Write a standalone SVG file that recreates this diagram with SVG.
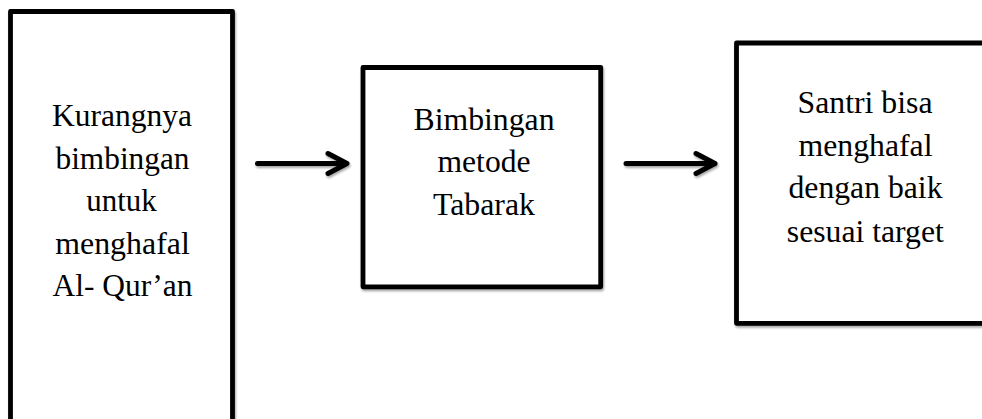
<svg xmlns="http://www.w3.org/2000/svg" width="982" height="419" viewBox="0 0 982 419">
<defs>
<filter id="sh" filterUnits="userSpaceOnUse" x="0" y="0" width="982" height="419">
<feDropShadow dx="1" dy="2" stdDeviation="1.2" flood-color="#000" flood-opacity="0.35"/>
</filter>
<style>
.box{fill:#fff;stroke:#000;stroke-width:4.8;stroke-linejoin:round;filter:url(#sh)}
.arr{fill:none;stroke:#000;stroke-width:5;stroke-linecap:round;stroke-linejoin:round;filter:url(#sh)}
</style>
</defs>
<rect width="982" height="419" fill="#fff"/>
<g id="node1">
<rect class="box" x="10.5" y="11.5" width="222" height="430"/>
<text font-family="Liberation Serif" font-size="31" text-anchor="middle" x="122" y="126" textLength="140" lengthAdjust="spacingAndGlyphs">Kurangnya</text>
<text font-family="Liberation Serif" font-size="31" text-anchor="middle" x="122.5" y="168.5" textLength="134" lengthAdjust="spacingAndGlyphs">bimbingan</text>
<text font-family="Liberation Serif" font-size="31" text-anchor="middle" x="121.5" y="211" textLength="70.5" lengthAdjust="spacingAndGlyphs">untuk</text>
<text font-family="Liberation Serif" font-size="31" text-anchor="middle" x="122.5" y="253.5" textLength="134.5" lengthAdjust="spacingAndGlyphs">menghafal</text>
<text font-family="Liberation Serif" font-size="31" text-anchor="middle" x="122.5" y="296" textLength="140" lengthAdjust="spacingAndGlyphs">Al- Qur’an</text>
</g>
<g id="node2">
<rect class="box" x="363" y="67.5" width="237.7" height="219.3"/>
<text font-family="Liberation Serif" font-size="31" text-anchor="middle" x="484" y="130" textLength="141" lengthAdjust="spacingAndGlyphs">Bimbingan</text>
<text font-family="Liberation Serif" font-size="31" text-anchor="middle" x="484" y="172" textLength="93" lengthAdjust="spacingAndGlyphs">metode</text>
<text font-family="Liberation Serif" font-size="31" text-anchor="middle" x="484" y="214.5" textLength="102" lengthAdjust="spacingAndGlyphs">Tabarak</text>
</g>
<g id="node3">
<rect class="box" x="736.5" y="43" width="280" height="280.3"/>
<text font-family="Liberation Serif" font-size="31" text-anchor="middle" x="865" y="113.3" textLength="135" lengthAdjust="spacingAndGlyphs">Santri bisa</text>
<text font-family="Liberation Serif" font-size="31" text-anchor="middle" x="865.5" y="156" textLength="134" lengthAdjust="spacingAndGlyphs">menghafal</text>
<text font-family="Liberation Serif" font-size="31" text-anchor="middle" x="865.5" y="198.3" textLength="154" lengthAdjust="spacingAndGlyphs">dengan baik</text>
<text font-family="Liberation Serif" font-size="31" text-anchor="middle" x="865.3" y="241.7" textLength="157" lengthAdjust="spacingAndGlyphs">sesuai target</text>
</g>
<g id="connectors">
<path class="arr" d="M257.5,163.5 H346 M328,153.5 L347,163.5 L328,173.5"/>
<path class="arr" d="M626,163.5 H715 M696,153.5 L715,163.5 L696,173.5"/>
</g>
</svg>
